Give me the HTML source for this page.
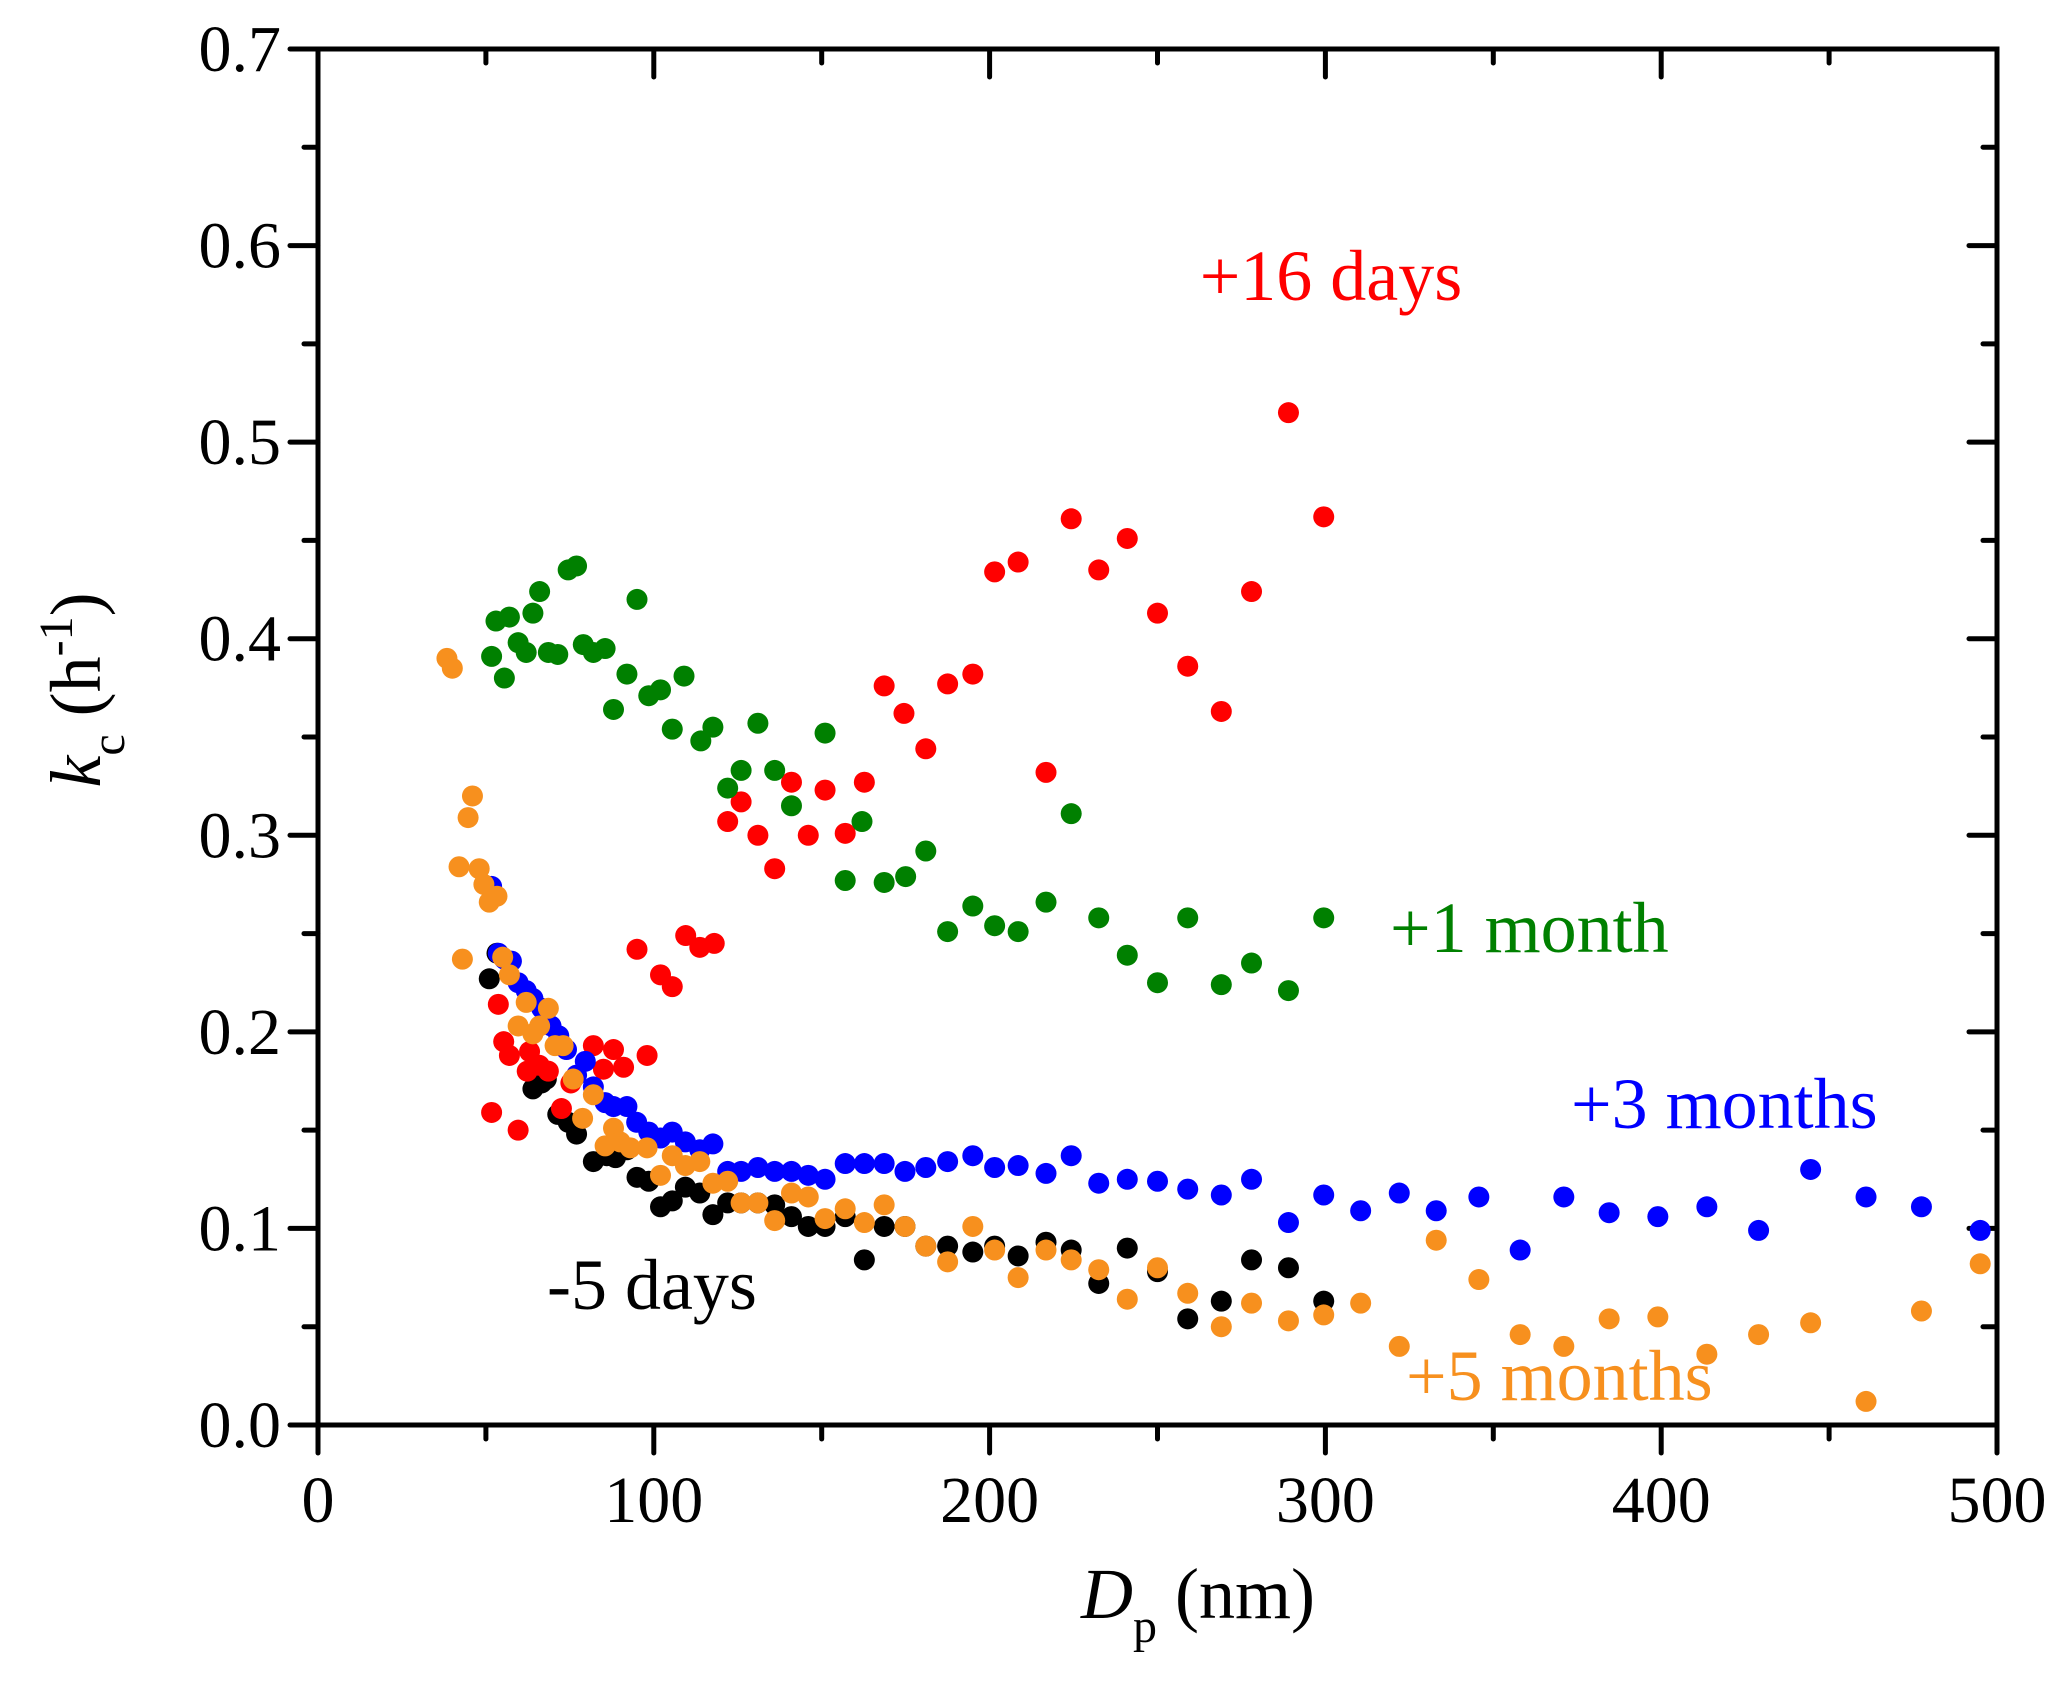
<!DOCTYPE html>
<html><head><meta charset="utf-8"><style>
html,body{margin:0;padding:0;background:#fff;}
svg{display:block;font-family:"Liberation Serif",serif;}
</style></head><body>
<svg id="chart" width="2067" height="1684" viewBox="0 0 2067 1684" xmlns="http://www.w3.org/2000/svg">
<rect width="2067" height="1684" fill="#fff"/>
<g id="axes"></g>
<g id="marks"></g>
<text x="547" y="1309" font-size="72" fill="#000">-5 days</text>
<text x="1331" y="300" font-size="72" fill="#ff0000" text-anchor="middle">+16 days</text>
<text x="1390" y="952" font-size="72" fill="#008000">+1 month</text>
<text x="1571" y="1128" font-size="72" fill="#0000ff">+3 months</text>
<text x="1406" y="1400" font-size="72" fill="#f7901e">+5 months</text>
<text x="1081" y="1618" font-size="72"><tspan font-style="italic">D</tspan><tspan font-size="48" dy="24">p</tspan><tspan dy="-24"> (nm)</tspan></text>
<text transform="translate(100,690) rotate(-90)" font-size="72" text-anchor="middle"><tspan font-style="italic">k</tspan><tspan font-size="48" dy="24">c</tspan><tspan dy="-24"> (h</tspan><tspan font-size="48" dy="-28">-1</tspan><tspan dy="28">)</tspan></text>
</svg>
<script>
const xTicks=[0,100,200,300,400,500];
const yTicks=[0.0,0.1,0.2,0.3,0.4,0.5,0.6,0.7];
const yTickLabels=["0.0","0.1","0.2","0.3","0.4","0.5","0.6","0.7"];
const minusFiveX=[51,53.3,64,66.6,68,71.4,74.5,77,82,86,88.6,92,95,98.5,102,105.5,109.4,113.7,117.6,122,126,131,136,141,146,151,157,162.7,168.6,174.8,181,187.5,195,201.5,208.5,216.8,224.3,232.5,241,250,259,269,278,289,299.5];
const minusFiveY=[0.227,0.240,0.171,0.174,0.176,0.158,0.154,0.148,0.134,0.137,0.136,0.140,0.126,0.124,0.111,0.114,0.121,0.118,0.107,0.113,0.113,0.113,0.112,0.106,0.101,0.101,0.106,0.084,0.101,0.101,0.091,0.091,0.088,0.091,0.086,0.093,0.089,0.072,0.090,0.078,0.054,0.063,0.084,0.080,0.063];
const plus16X=[51.7,53.7,55.3,57,59.6,62.3,63,65.9,68.6,72.5,75.3,82,85,88,91,98,95,102,105.5,109.5,113.7,118,122,126,131,136,141,146,151,157,162.7,168.6,174.5,181,187.5,195,201.5,208.5,216.8,224.3,232.5,241,250,259,269,278,289,299.5];
const plus16Y=[0.159,0.214,0.195,0.188,0.150,0.180,0.190,0.183,0.180,0.161,0.174,0.193,0.181,0.191,0.182,0.188,0.242,0.229,0.223,0.249,0.243,0.245,0.307,0.317,0.300,0.283,0.327,0.300,0.323,0.301,0.327,0.376,0.362,0.344,0.377,0.382,0.434,0.439,0.332,0.461,0.435,0.451,0.413,0.386,0.363,0.424,0.515,0.462];
const plus1mX=[51.7,53,55.5,57,59.6,62,64,66,68.6,71.4,74.5,77,79,82,85.5,88,92,95,98.5,102,105.5,109,114,117.6,122,126,131,136,141,151,157,162,168.6,175,181,187.5,195,201.5,208.5,216.8,224.3,232.5,241,250,259,269,278,289,299.5];
const plus1mY=[0.391,0.409,0.380,0.411,0.398,0.393,0.413,0.424,0.393,0.392,0.435,0.437,0.397,0.393,0.395,0.364,0.382,0.420,0.371,0.374,0.354,0.381,0.348,0.355,0.324,0.333,0.357,0.333,0.315,0.352,0.277,0.307,0.276,0.279,0.292,0.251,0.264,0.254,0.251,0.266,0.311,0.258,0.239,0.225,0.258,0.224,0.235,0.221,0.258];
const plus3mX=[51.7,53.7,55.5,57.6,59.6,62,64,66.6,69.4,71.7,74,77,79.6,82,85.5,88,92,94.9,98.5,102,105.5,109.4,113.7,117.6,122,126,131,136,141,146,151,157,162.7,168.6,174.8,181,187.5,195,201.5,208.5,216.8,224.3,232.5,241,250,259,269,278,289,299.5,310.5,322,333,345.7,358,371,384.5,399,413.6,429,444.5,461,477.5,495];
const plus3mY=[0.274,0.240,0.237,0.236,0.225,0.221,0.217,0.212,0.203,0.198,0.191,0.178,0.185,0.172,0.164,0.162,0.162,0.154,0.149,0.146,0.149,0.144,0.140,0.143,0.129,0.129,0.131,0.129,0.129,0.127,0.125,0.133,0.133,0.133,0.129,0.131,0.134,0.137,0.131,0.132,0.128,0.137,0.123,0.125,0.124,0.120,0.117,0.125,0.103,0.117,0.109,0.118,0.109,0.116,0.089,0.116,0.108,0.106,0.111,0.099,0.130,0.116,0.111,0.099];
const plus5mX=[38.4,40,42,43,44.7,46,48,49.4,51,53.3,55,57,59.6,62,64,66,68.6,70.6,73,76,78.8,82,85.5,88,90,93,98,102,105.5,109.4,113.7,117.6,122,126,131,136,141,146,151,157,162.7,168.6,174.8,181,187.5,195,201.5,208.5,216.8,224.3,232.5,241,250,259,269,278,289,299.5,310.5,322,333,345.7,358,371,384.5,399,413.6,429,444.5,461,477.5,495];
const plus5mY=[0.390,0.385,0.284,0.237,0.309,0.320,0.283,0.275,0.266,0.269,0.238,0.229,0.203,0.215,0.199,0.203,0.212,0.193,0.193,0.176,0.156,0.168,0.142,0.151,0.144,0.141,0.141,0.127,0.137,0.132,0.134,0.123,0.124,0.113,0.113,0.104,0.118,0.116,0.105,0.110,0.103,0.112,0.101,0.091,0.083,0.101,0.089,0.075,0.089,0.084,0.079,0.064,0.080,0.067,0.050,0.062,0.053,0.056,0.062,0.040,0.094,0.074,0.046,0.040,0.054,0.055,0.036,0.046,0.052,0.012,0.058,0.082];

const X0=318,X1=1997,Y0=1425,Y1=49;
const sx=v=>X0+(v/500)*(X1-X0);
const sy=v=>Y0-(v/0.7)*(Y0-Y1);
const NS="http://www.w3.org/2000/svg";
const axes=document.getElementById('axes');
const marks=document.getElementById('marks');
function line(x1,y1,x2,y2,w){const l=document.createElementNS(NS,'line');l.setAttribute('x1',x1);l.setAttribute('y1',y1);l.setAttribute('x2',x2);l.setAttribute('y2',y2);l.setAttribute('stroke','#000');l.setAttribute('stroke-width',w);l.setAttribute('stroke-linecap','round');axes.appendChild(l);return l;}
const frame=document.createElementNS(NS,'rect');
frame.setAttribute('x',X0);frame.setAttribute('y',Y1);frame.setAttribute('width',X1-X0);frame.setAttribute('height',Y0-Y1);
frame.setAttribute('fill','none');frame.setAttribute('stroke','#000');frame.setAttribute('stroke-width','5');


axes.appendChild(frame);
for(let v=0;v<=500;v+=50){const x=sx(v);const maj=v%100===0;const L=maj?28:14;
 const t=line(x,Y0,x,Y0+L,5);
 
 
 line(x,Y1,x,Y1+L,5);}
for(let i=0;i<=14;i++){const v=i*0.05;const y=sy(v);const maj=i%2===0;const L=maj?28:14;
 const t=line(X0-L,y,X0,y,5);
 
 
 line(X1-L,y,X1,y,5);}
xTicks.forEach(v=>{const t=document.createElementNS(NS,'text');t.setAttribute('x',sx(v));t.setAttribute('y',1522);t.setAttribute('font-size','66');t.setAttribute('text-anchor','middle');t.textContent=v;
 
 
 axes.appendChild(t);});
yTicks.forEach((v,i)=>{const t=document.createElementNS(NS,'text');t.setAttribute('x',281);t.setAttribute('y',sy(v)+22);t.setAttribute('font-size','66');t.setAttribute('text-anchor','end');t.textContent=yTickLabels[i];
 
 
 axes.appendChild(t);});
function series(xs,ys,color,name){xs.forEach((x,i)=>{const c=document.createElementNS(NS,'circle');c.setAttribute('cx',sx(x));c.setAttribute('cy',sy(ys[i]));c.setAttribute('r',10.5);c.setAttribute('fill',color);
 
 
 marks.appendChild(c);});}
series(minusFiveX,minusFiveY,'#000000','point-minus-5-days');
series(plus16X,plus16Y,'#ff0000','point-plus-16-days');
series(plus1mX,plus1mY,'#008000','point-plus-1-month');
series(plus3mX,plus3mY,'#0000ff','point-plus-3-months');
series(plus5mX,plus5mY,'#f7901e','point-plus-5-months');
</script>
</body></html>
